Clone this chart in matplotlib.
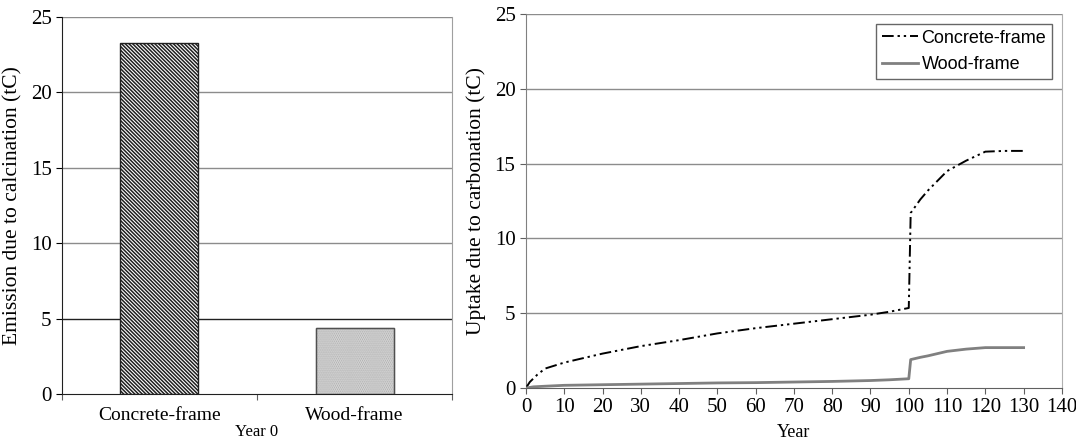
import matplotlib
matplotlib.use('Agg')
import matplotlib.pyplot as plt
import numpy as np

plt.rcParams['font.family'] = 'Liberation Serif'
plt.rcParams['hatch.linewidth'] = 1.1

# left panel: emission due to calcination at year 0
frames = ['Concrete-frame', 'Wood-frame']
emission = [23.3, 4.4]

# right panel: uptake due to carbonation over time
years_concrete = [0, 1, 3, 5, 10, 15, 20, 30, 40, 50, 60, 70, 80, 90, 95, 100, 100.5, 103, 105, 110, 115, 120, 125, 130]
uptake_concrete = [0, 0.4, 0.9, 1.3, 1.7, 2.0, 2.3, 2.8, 3.2, 3.65, 4.0, 4.3, 4.6, 4.9, 5.1, 5.35, 11.7, 12.6, 13.2, 14.5, 15.2, 15.8, 15.85, 15.85]
years_wood = [0, 2, 5, 10, 20, 30, 40, 50, 60, 70, 80, 90, 95, 100, 100.5, 103, 105, 110, 115, 120, 125, 130]
uptake_wood = [0, 0.08, 0.12, 0.18, 0.22, 0.26, 0.3, 0.34, 0.36, 0.4, 0.44, 0.5, 0.55, 0.62, 1.9, 2.05, 2.15, 2.45, 2.6, 2.7, 2.7, 2.7]

fig = plt.figure(figsize=(10.76, 4.44), dpi=100)
ax1 = fig.add_axes([0.0576, 0.1126, 0.3625, 0.849])
ax2 = fig.add_axes([0.4888, 0.1261, 0.4981, 0.8423])

grid_col = '#8c8c8c'

# ---- left: bars
x = np.arange(len(frames))
ax1.bar(x[0], emission[0], width=0.4, facecolor='white', edgecolor='#202020',
        hatch='\\' * 9, linewidth=1.0, zorder=3)
ax1.bar(x[1], emission[1], width=0.4, facecolor='#e6e6e6', edgecolor='#a8a8a8',
        hatch='.' * 8, linewidth=1.0, zorder=3)
ax1.bar(x[1], emission[1], width=0.4, facecolor='none', edgecolor='#505050',
        linewidth=1.0, zorder=4)
ax1.set_xlim(-0.5, 1.5)
ax1.set_ylim(0, 25)
ax1.set_yticks([0, 5, 10, 15, 20, 25])
ax1.set_xticks([-0.5, 0.5, 1.5])
ax1.set_xticklabels([])
ax1.set_xticks(x, minor=True)
ax1.set_xticklabels(frames, minor=True, fontsize=14)
ax1.tick_params(axis='x', which='minor', length=0, pad=9)
ax1.tick_params(axis='x', which='major', length=4, color='#606060')
ax1.tick_params(axis='y', length=4, labelsize=15)
for yv in [5, 10, 15, 20, 25]:
    ax1.axhline(yv, color='#202020' if yv == 5 else grid_col, lw=1.0, zorder=1)
ax1.set_ylabel('Emission due to calcination (tC)', fontsize=15.5, labelpad=6)
ax1.set_xlabel('Year 0', fontsize=12, labelpad=0)
ax1.spines['left'].set_color('#202020')
ax1.spines['bottom'].set_color('#202020')
ax1.spines['top'].set_visible(False)
ax1.spines['right'].set_color('#a0a0a0')

# ---- right: lines
ax2.plot(years_concrete, uptake_concrete, color='black', lw=1.4,
         dashes=(6, 2, 1.2, 2, 1.2, 2), label='Concrete-frame', zorder=3)
ax2.plot(years_wood, uptake_wood, color='#808080', lw=2.0,
         label='Wood-frame', zorder=3)
ax2.set_xlim(0, 140)
ax2.set_ylim(0, 25)
ax2.set_xticks(np.arange(0, 141, 10))
ax2.set_yticks([0, 5, 10, 15, 20, 25])
ax2.tick_params(axis='both', length=4, labelsize=15, color='#606060')
for yv in [5, 10, 15, 20, 25]:
    ax2.axhline(yv, color=grid_col, lw=1.0, zorder=1)
ax2.set_ylabel('Uptake due to carbonation (tC)', fontsize=15.5, labelpad=6)
ax2.set_xlabel('Year', fontsize=13, labelpad=5)
ax2.spines['left'].set_color('#808080')
ax2.spines['bottom'].set_color('#606060')
ax2.spines['top'].set_visible(False)
ax2.spines['right'].set_color('#b0b0b0')

leg = ax2.legend(loc='upper right', bbox_to_anchor=(0.981, 0.973),
                 prop={'family': 'Liberation Sans', 'size': 13},
                 frameon=True, fancybox=False, edgecolor='#404040',
                 borderpad=0.3, handlelength=2.0, handletextpad=0.2,
                 labelspacing=0.55, borderaxespad=0)
leg.get_frame().set_linewidth(1.0)

fig.savefig('out.png', dpi=100)
